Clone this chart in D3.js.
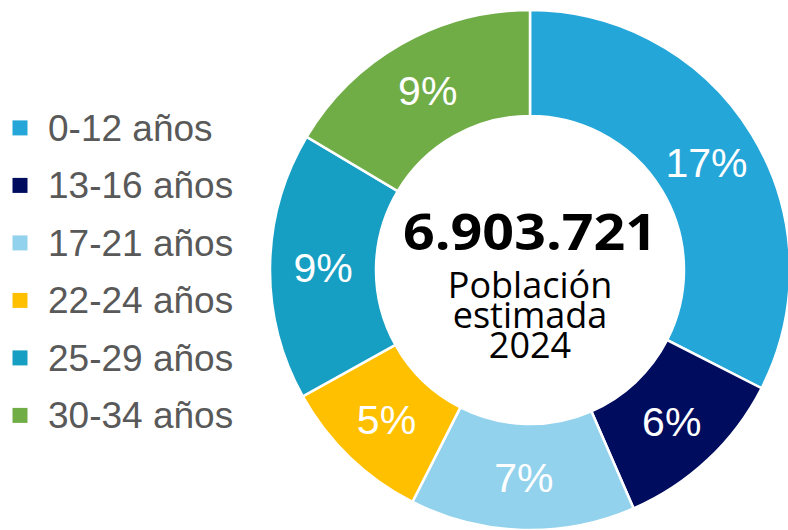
<!DOCTYPE html>
<html>
<head>
<meta charset="utf-8">
<script src="https://cdnjs.cloudflare.com/ajax/libs/d3/7.8.5/d3.min.js"></script>
<style>
  html, body { margin: 0; padding: 0; background: #fff; }
  svg { display: block; }
</style>
</head>
<body>
<div id="chart"></div>
<script>
// Age groups and their share of the total population (%)
const categories = ["0-12 años", "13-16 años", "17-21 años", "22-24 años", "25-29 años", "30-34 años"];
const shares = [17.2, 5.8, 7.4, 5.0, 8.8, 8.7];
const colors = ["#24A6D8", "#000C5E", "#92D2EC", "#FFC000", "#169FC3", "#70AD47"];
const totalLabel = "6.903.721";
const subtitleLines = ["Población", "estimada", "2024"];

const width = 788, height = 530;
const cx = 530, cy = 270;
const outerR = 260, innerR = 154;

const svg = d3.select("#chart").append("svg")
    .attr("width", width)
    .attr("height", height);

const data = categories.map((c, i) => ({ name: c, value: shares[i], color: colors[i] }));

const pie = d3.pie()
    .sort(null)
    .value(d => d.value);

const arc = d3.arc()
    .innerRadius(innerR)
    .outerRadius(outerR);

const labelArc = d3.arc()
    .innerRadius((innerR + outerR) / 2)
    .outerRadius((innerR + outerR) / 2);

const ring = svg.append("g")
    .attr("transform", `translate(${cx},${cy})`);

const arcs = pie(data);

ring.selectAll("path")
    .data(arcs)
    .join("path")
    .attr("d", arc)
    .attr("fill", d => d.data.color)
    .attr("stroke", "#fff")
    .attr("stroke-width", 2.5);

// percentage labels, rounded like the source
ring.selectAll("text.pct")
    .data(arcs)
    .join("text")
    .attr("class", "pct")
    .attr("transform", d => `translate(${labelArc.centroid(d)})`)
    .attr("text-anchor", "middle")
    .attr("dy", "0.36em")
    .style("font-family", "'Liberation Sans', Arial, sans-serif")
    .style("font-size", "41px")
    .style("fill", "#fff")
    .text(d => Math.round(d.data.value) + "%");

// center text
ring.append("text")
    .attr("text-anchor", "middle")
    .attr("y", 250 - cy)
    .attr("textLength", 254)
    .attr("lengthAdjust", "spacingAndGlyphs")
    .style("font-family", "'Open Sans', sans-serif")
    .style("font-weight", 700)
    .style("font-size", "51px")
    .style("fill", "#000")
    .text(totalLabel);

ring.selectAll("text.sub")
    .data(subtitleLines)
    .join("text")
    .attr("class", "sub")
    .attr("text-anchor", "middle")
    .attr("y", (d, i) => 298 - cy + i * 30)
    .style("font-family", "'Open Sans', sans-serif")
    .style("font-size", "36px")
    .style("fill", "#000")
    .text(d => d);

// legend
const legend = svg.append("g");
const rowH = 57.5, firstBase = 140.7;

const item = legend.selectAll("g")
    .data(data)
    .join("g")
    .attr("transform", (d, i) => `translate(0,${firstBase + i * rowH})`);

item.append("rect")
    .attr("x", 12.5)
    .attr("y", -20.3)
    .attr("width", 15)
    .attr("height", 15)
    .attr("fill", d => d.color);

item.append("text")
    .attr("x", 48)
    .attr("y", 0)
    .style("font-family", "'Liberation Sans', Arial, sans-serif")
    .style("font-size", "37px")
    .style("fill", "#595959")
    .text(d => d.name);
</script>
</body>
</html>
